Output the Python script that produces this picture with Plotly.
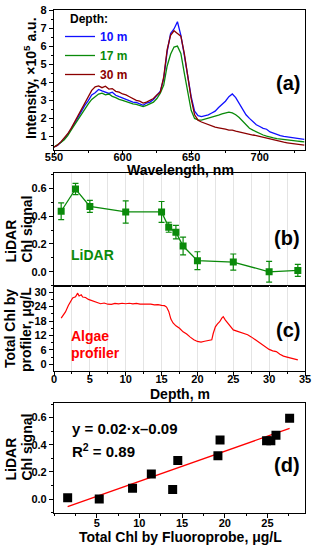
import numpy as np
import plotly.graph_objects as go

W, H = 314, 550
FONT = "Liberation Sans"

# ---------------- (a) spectra, intensity in units of 1e5 a.u. ----------------
wavelength = np.arange(550, 733, 2.5)
int_10m = [0.42, 0.50, 0.68, 0.85, 1.12, 1.40, 1.72, 2.05, 2.40, 2.72,
           2.98, 3.30, 3.42, 3.60, 3.52, 3.45, 3.38, 3.45, 3.28, 3.20,
           3.12, 3.05, 2.98, 2.90, 2.88, 2.80, 2.72, 2.85, 2.90, 3.05,
           3.25, 3.50, 4.20, 5.70, 6.70, 6.95, 7.35, 6.60, 5.50, 4.30,
           3.20, 2.40, 2.15, 2.10, 2.15, 2.20, 2.30, 2.40, 2.60, 2.75,
           2.95, 3.20, 3.35, 3.15, 2.85, 2.55, 2.20, 2.00, 1.80, 1.65,
           1.55, 1.45, 1.40, 1.25, 1.18, 1.10, 1.05, 1.00, 0.98, 0.93,
           0.90, 0.88, 0.86, 0.84]
int_17m = [0.42, 0.52, 0.66, 0.82, 1.05, 1.35, 1.65, 1.95, 2.25, 2.55,
           2.80, 3.05, 3.20, 3.35, 3.40, 3.30, 3.35, 3.22, 3.15, 3.05,
           3.00, 2.92, 2.85, 2.80, 2.78, 2.70, 2.65, 2.72, 2.80, 2.90,
           3.10, 3.40, 3.85, 4.90, 5.55, 5.95, 6.00, 5.60, 4.50, 3.40,
           2.45, 2.00, 1.92, 1.90, 1.95, 2.00, 2.05, 2.12, 2.18, 2.25,
           2.30, 2.35, 2.30, 2.20, 2.05, 1.85, 1.60, 1.45, 1.35, 1.25,
           1.15, 1.08, 1.02, 0.95, 0.92, 0.88, 0.85, 0.82, 0.80, 0.78,
           0.76, 0.74, 0.72, 0.70]
int_30m = [0.40, 0.52, 0.70, 0.90, 1.15, 1.45, 1.80, 2.15, 2.50, 2.85,
           3.15, 3.55, 3.75, 3.80, 3.70, 3.78, 3.62, 3.65, 3.50, 3.45,
           3.35, 3.30, 3.20, 3.10, 3.00, 2.95, 2.85, 2.90, 3.00, 3.10,
           3.30, 3.45, 4.30, 5.80, 6.60, 6.85, 6.70, 6.55, 5.60, 4.30,
           3.10, 2.20, 1.90, 1.80, 1.72, 1.65, 1.60, 1.52, 1.48, 1.42,
           1.40, 1.35, 1.35, 1.30, 1.25, 1.20, 1.15, 1.12, 1.08, 1.05,
           1.00, 0.95, 0.92, 0.88, 0.82, 0.78, 0.72, 0.68, 0.65, 0.62,
           0.58, 0.56, 0.54, 0.52]

# ---------------- (b) LiDAR Chl signal vs depth ----------------
lidar_depth = [1, 3, 5, 10, 15, 16, 17, 18, 20, 25, 30, 34]
lidar_signal = [0.435, 0.595, 0.47, 0.43, 0.43, 0.32, 0.285, 0.185, 0.08, 0.07, 0.0, 0.01]
lidar_err = [0.06, 0.04, 0.043, 0.08, 0.075, 0.036, 0.048, 0.064, 0.064, 0.058, 0.075, 0.043]

# ---------------- (c) algae profiler ----------------
prof_depth = [1.0, 1.3, 1.6, 2.0, 2.3, 2.6, 3.0, 3.3, 3.5, 3.8,
              4.0, 4.4, 4.8, 5.2, 5.6, 6.0, 6.5, 7.0, 7.5, 8.0,
              8.5, 9.0, 9.5, 10.0, 10.5, 11.0, 11.5, 12.0, 12.5, 13.0,
              13.5, 14.0, 14.5, 15.0, 15.4, 15.7, 16.0, 16.3, 16.6, 17.0,
              17.5, 18.0, 18.5, 19.0, 19.5, 20.0, 20.5, 21.0, 21.5, 22.0,
              22.2, 22.5, 22.8, 23.1, 23.4, 23.6, 23.9, 24.2, 24.6, 25.0,
              25.5, 26.0, 26.5, 27.0, 27.5, 28.0, 28.5, 29.0, 29.5, 30.0,
              30.5, 31.0, 31.5, 32.0, 32.5, 33.0, 33.5, 34.0]
prof_chl = [19.2, 20.5, 21.8, 24.5, 26.0, 27.6, 28.1, 29.6, 28.4, 28.9,
            28.0, 27.8, 27.0, 26.6, 26.0, 25.8, 25.2, 25.5, 25.0, 24.9,
            25.3, 25.1, 25.4, 25.2, 25.4, 25.1, 25.3, 25.0, 25.1, 24.9,
            25.0, 24.7, 24.8, 24.5, 24.4, 23.8, 22.0, 18.8, 17.2, 16.0,
            15.0, 13.5, 12.6, 11.3, 10.2, 9.5, 9.2, 9.6, 9.9, 10.2,
            12.8, 15.6, 16.8, 17.7, 19.2, 19.8, 18.4, 17.3, 15.6, 14.3,
            13.8, 13.3, 12.9, 12.3, 11.4, 10.3, 9.3, 8.2, 7.3, 6.2,
            5.6, 5.3, 4.2, 3.4, 3.0, 2.6, 2.3, 1.8]

# ---------------- (d) LiDAR vs Fluoroprobe ----------------
fluoro_chl = [19.45, 27.6, 26.0, 24.9, 25.4, 19.2, 14.5, 11.4, 9.2, 13.9, 5.3, 1.6]
fluoro_lidar = lidar_signal

BLUE = "#1010ff"
GREEN = "#0a8a0a"
DRED = "#8b0000"
RED = "#ff0000"


def px(x):
    return x / W


def py(y):
    return 1 - y / H


xdom = [px(54), px(305)]
tickfont = dict(family=FONT, size=11, color="black", weight="bold")
base = dict(showline=True, linecolor="black", linewidth=1.2, mirror=True,
            ticks="outside", ticklen=4, tickwidth=1, tickcolor="black",
            tickfont=tickfont, showgrid=False, zeroline=False, automargin=False)

fig = go.Figure()

for vals, name, col in [(int_10m, "10 m", BLUE), (int_17m, "17 m", GREEN), (int_30m, "30 m", DRED)]:
    fig.add_trace(go.Scatter(x=wavelength, y=vals, mode="lines",
                             name=f"<span style='color:{col}'>{name}</span>",
                             line=dict(color=col, width=1.3), xaxis="x", yaxis="y"))

fig.add_trace(go.Scatter(x=lidar_depth, y=lidar_signal, mode="lines+markers",
                         marker=dict(symbol="square", size=7, color=GREEN),
                         line=dict(color=GREEN, width=1.3),
                         error_y=dict(type="data", array=lidar_err, color=GREEN, thickness=1.2, width=3),
                         showlegend=False, xaxis="x2", yaxis="y2"))

fig.add_trace(go.Scatter(x=prof_depth, y=prof_chl, mode="lines",
                         line=dict(color=RED, width=1.2), showlegend=False,
                         xaxis="x3", yaxis="y3"))

slope, intercept = np.polyfit(fluoro_chl, fluoro_lidar, 1)
xfit = np.array([min(fluoro_chl), max(fluoro_chl)])
fig.add_trace(go.Scatter(x=xfit, y=slope * xfit + intercept, mode="lines",
                         line=dict(color=RED, width=1.3), showlegend=False,
                         xaxis="x4", yaxis="y4"))
fig.add_trace(go.Scatter(x=fluoro_chl, y=fluoro_lidar, mode="markers",
                         marker=dict(symbol="square", size=9, color="black"),
                         showlegend=False, xaxis="x4", yaxis="y4"))

fig.update_layout(
    width=W, height=H, margin=dict(l=0, r=0, t=0, b=0, autoexpand=False),
    paper_bgcolor="white", plot_bgcolor="white",
    showlegend=True,
    legend=dict(x=px(60), y=py(22), xanchor="left", yanchor="top",
                bgcolor="rgba(0,0,0,0)", borderwidth=0,
                font=dict(family=FONT, size=12, color="black", weight="bold"),
                tracegroupgap=0, itemwidth=30),
    xaxis=dict(base, domain=xdom, anchor="y", range=[550, 733], tickvals=[550, 600, 650, 700],
               ticklabelstandoff=-7,
               minor=dict(ticks="outside", ticklen=2, dtick=25, tickcolor="black")),
    yaxis=dict(base, domain=[py(150), py(10)], anchor="x", range=[0.25, 8], tickvals=list(range(1, 9)),
               minor=dict(ticks="outside", ticklen=2, dtick=0.5, tickcolor="black")),
    xaxis2=dict(base, domain=xdom, anchor="y2", range=[0, 35], dtick=5, ticks="",
                showticklabels=False, showgrid=True, gridcolor="#e4e4e4", gridwidth=1,
                minor=dict(dtick=2.5, showgrid=True, gridcolor="#e4e4e4")),
    yaxis2=dict(base, domain=[py(285.7), py(173)], anchor="x2", range=[-0.1, 0.71],
                tickvals=[0, 0.2, 0.4, 0.6], tickformat=".1f",
                minor=dict(ticks="outside", ticklen=2, dtick=0.1, tickcolor="black")),
    xaxis3=dict(base, domain=xdom, anchor="y3", range=[0, 35], dtick=5, ticklabelstandoff=-6,
                showgrid=True, gridcolor="#e4e4e4", gridwidth=1,
                minor=dict(dtick=2.5, showgrid=True, gridcolor="#e4e4e4", ticks="outside", ticklen=2, tickcolor="black")),
    yaxis3=dict(base, domain=[py(371), py(285.7)], anchor="x3", range=[-2.8, 32.7],
                tickvals=[0, 6, 12, 18, 24, 30],
                minor=dict(ticks="outside", ticklen=2, dtick=3, tickcolor="black")),
    xaxis4=dict(base, domain=xdom, anchor="y4", range=[0, 29.4], tickvals=[5, 10, 15, 20, 25],
                ticklabelstandoff=-4,
                minor=dict(ticks="outside", ticklen=2, dtick=2.5, tickcolor="black")),
    yaxis4=dict(base, domain=[py(512.7), py(402.7)], anchor="x4", range=[-0.1, 0.71],
                tickvals=[0, 0.2, 0.4, 0.6], tickformat=".1f",
                minor=dict(ticks="outside", ticklen=2, dtick=0.1, tickcolor="black")),
)


def ann(text, x, y, size=14, color="black", angle=0, xanchor="center", yanchor="middle"):
    fig.add_annotation(text=text, x=px(x), y=py(y), xref="paper", yref="paper",
                       showarrow=False, textangle=angle, xanchor=xanchor, yanchor=yanchor,
                       font=dict(family=FONT, size=size, color=color, weight="bold"))


# legend title
ann("Depth:", 68, 19, size=12, xanchor="left")

# axis titles
ann("Intensity, ×10<sup>5</sup> a.u.", 30, 78, angle=-90)
ann("Wavelength, nm", 180, 170)
ann("LiDAR", 10, 265, angle=-90, yanchor="bottom")
ann("Chl signal", 26, 265, angle=-90, yanchor="bottom")
ann("Total Chl by", 10, 329, angle=-90)
ann("profiler, μg/L", 26, 330, angle=-90)
ann("Depth, m", 180, 394)
ann("LiDAR", 10, 483, angle=-90, yanchor="bottom")
ann("Chl signal", 26, 483, angle=-90, yanchor="bottom")
ann("Total Chl by Fluoroprobe, μg/L", 180, 537)

# panel letters
ann("(a)", 302, 83, size=20, xanchor="right")
ann("(b)", 302, 238, size=20, xanchor="right")
ann("(c)", 302, 330, size=20, xanchor="right")
ann("(d)", 302, 465, size=20, xanchor="right")

# in-panel labels
ann("LiDAR", 69, 255, color=GREEN, xanchor="left")
ann("Algae", 69, 336, color=RED, xanchor="left")
ann("profiler", 69, 353, color=RED, xanchor="left")
ann("y = 0.02·x–0.09", 70, 428, size=15, xanchor="left")
ann("R<sup>2</sup> = 0.89", 70, 450, size=15, xanchor="left")

fig.write_html("out.html", config={"displayModeBar": False},
               post_script="document.body.style.margin='0';")
